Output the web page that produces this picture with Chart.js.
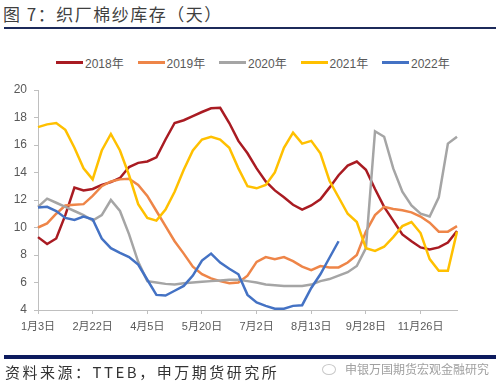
<!DOCTYPE html>
<html>
<head>
<meta charset="utf-8">
<script src="https://cdn.jsdelivr.net/npm/chart.js@4"></script>
<style>
  body { margin: 0; background: #fff; width: 500px; height: 391px; overflow: hidden; position: relative; }
  #myChart { position: absolute; left: 0; top: 0; }
  .title { position: absolute; left: 3px; top: 1px; font: 17px "Noto Sans CJK SC", sans-serif; color: #3f3f3f; letter-spacing: 1.5px; }
  .rule-top { position: absolute; left: 4px; top: 27px; width: 492px; height: 2px; background: #1c2a5a; }
  .rule-bottom { position: absolute; left: 4px; top: 355px; width: 492px; height: 4px; background: #0d1b5e; }
  .source { position: absolute; left: 5px; top: 361px; font: 15px "Noto Sans CJK SC", sans-serif; color: #333; letter-spacing: 2.5px; }
  .mark { position: absolute; left: 345px; top: 360px; font: 12px "Noto Sans CJK SC", sans-serif; color: #a0a0a0; }
  .icon { position: absolute; left: 322px; top: 364px; width: 12px; height: 9px; border: 1px solid #c8c8c8; border-radius: 50%; }
  #legend { position: absolute; left: 56px; top: 54px; display: flex; font: 12px "Liberation Sans", "Noto Sans CJK SC", sans-serif; color: #595959; }
  #legend .item { width: 81.5px; display: flex; align-items: center; }
  #legend .line { width: 27px; height: 2.5px; margin-right: 2px; }
</style>
</head>
<body>
<div class="title">图 7：织厂棉纱库存（天）</div>
<div class="rule-top"></div>
<div id="legend"></div>
<canvas id="myChart" width="500" height="391"></canvas>
<div class="rule-bottom"></div>
<div class="source">资料来源：TTEB，申万期货研究所</div>
<div class="icon"></div>
<div class="mark">申银万国期货宏观金融研究</div>
<script>
// tick labels shown every 6 weeks on the category axis
const tickLabels = ['1月3日', '2月22日', '4月5日', '5月20日', '7月2日', '8月13日', '9月28日', '11月26日'];
const labelEvery = 6;
const pointCount = 47;

const seriesNames = ['2018年', '2019年', '2020年', '2021年', '2022年'];
const seriesColors = ['#A91B22', '#EE8548', '#A5A5A5', '#FFC000', '#4472C4'];

const s2018 = [9.3, 8.8, 9.2, 10.9, 12.9, 12.7, 12.8, 13.1, 13.3, 13.6, 14.4, 14.7,
    14.8, 15.1, 16.4, 17.6, 17.8, 18.1, 18.4, 18.67, 18.7, 17.6, 16.3, 15.4,
    14.3, 13.35, 12.7, 12.2, 11.65, 11.3, 11.6, 12.05, 12.9, 13.8, 14.5, 14.8,
    14.2, 12.8, 11.5, 10.5, 9.5, 9.0, 8.55, 8.4, 8.55, 8.9, 9.75];
const s2019 = [10.0, 10.3, 11.0, 11.6, 11.65, 11.7, 12.3, 13.0, 13.35, 13.5, 13.55, 13.1,
    12.3, 11.2, 10.1, 9.0, 8.1, 7.15, 6.6, 6.3, 6.1, 5.95, 6.0, 6.5,
    7.5, 7.85, 7.7, 7.85, 7.55, 7.15, 6.9, 7.2, 7.1, 7.1, 7.45, 8.0,
    9.7, 10.9, 11.5, 11.35, 11.25, 11.1, 10.8, 10.35, 9.7, 9.7, 10.1];
const s2020 = [11.5, 12.1, 11.8, 11.5, 11.2, 10.9, 10.5, 10.9, 12.0, 11.2, 9.5, 7.5,
    6.1, 6.0, 5.9, 5.85, 5.95, 6.0, 6.05, 6.1, 6.15, 6.2, 6.2, 6.1,
    6.0, 5.85, 5.8, 5.75, 5.75, 5.75, 5.85, 6.1, 6.25, 6.5, 6.75, 7.2,
    8.5, 17.0, 16.6, 14.3, 12.6, 11.6, 11.0, 10.8, 12.2, 16.1, 16.6];
const s2021 = [17.3, 17.5, 17.6, 17.1, 15.8, 14.3, 13.5, 15.6, 16.8, 15.6, 13.8, 11.7,
    10.7, 10.5, 11.3, 12.6, 14.2, 15.6, 16.4, 16.6, 16.4, 15.8, 14.3, 13.0,
    12.85, 13.1, 14.0, 15.8, 16.9, 16.1, 16.3, 15.4, 13.4, 12.2, 11.0, 10.4,
    8.5, 8.3, 8.6, 9.3, 10.1, 10.4, 9.6, 7.7, 6.85, 6.85, 9.7];
const s2022 = [11.45, 11.5, 11.2, 10.7, 10.55, 10.8, 10.6, 9.2, 8.5, 8.15, 7.85, 7.3,
    6.2, 5.1, 5.05, 5.4, 5.75, 6.5, 7.6, 8.1, 7.45, 7.0, 6.6, 5.1,
    4.55, 4.3, 4.1, 4.1, 4.3, 4.35, 5.6, 6.6, 7.8, 9.0];

const allSeries = [s2018, s2019, s2020, s2021, s2022];

// category list: one slot per week, label only every 6th slot
const categories = Array.from({ length: pointCount }, (_, i) =>
    i % labelEvery === 0 ? (tickLabels[i / labelEvery] || '') : '');

// html legend
const legendEl = document.getElementById('legend');
seriesNames.forEach((name, i) => {
    const item = document.createElement('div');
    item.className = 'item';
    item.innerHTML = '<span class="line" style="background:' + seriesColors[i] + '"></span><span>' + name + '</span>';
    legendEl.appendChild(item);
});

const ctx = document.getElementById('myChart').getContext('2d');
new Chart(ctx, {
    type: 'line',
    data: {
        labels: categories,
        datasets: allSeries.map((values, i) => ({
            label: seriesNames[i],
            data: values,
            borderColor: seriesColors[i],
            backgroundColor: seriesColors[i],
            borderWidth: 2.5,
            pointRadius: 0,
            tension: 0,
            fill: false,
            order: allSeries.length - i // later years drawn on top
        }))
    },
    options: {
        responsive: false,
        animation: false,
        layout: { padding: { top: 90, left: 0, right: 43, bottom: 51 } },
        plugins: {
            legend: { display: false },
            tooltip: { enabled: false }
        },
        scales: {
            x: {
                afterFit: scale => { scale.height = 30; },
                border: { color: '#bfbfbf' },
                grid: {
                    drawOnChartArea: false,
                    tickLength: 4,
                    color: c => (c.index % labelEvery === 0 ? '#bfbfbf' : 'rgba(0,0,0,0)')
                },
                ticks: {
                    autoSkip: false,
                    maxRotation: 0,
                    padding: 6,
                    color: '#595959',
                    font: { family: '"Liberation Sans", "Noto Sans CJK SC", sans-serif', size: 11 }
                }
            },
            y: {
                min: 4,
                max: 20,
                afterFit: scale => { scale.width = 38; },
                border: { color: '#bfbfbf' },
                grid: { drawOnChartArea: false, tickLength: 4, color: '#bfbfbf' },
                ticks: {
                    stepSize: 2,
                    padding: 7,
                    color: '#595959',
                    font: { family: '"Liberation Sans", sans-serif', size: 12 }
                }
            }
        }
    }
});
</script>
</body>
</html>
